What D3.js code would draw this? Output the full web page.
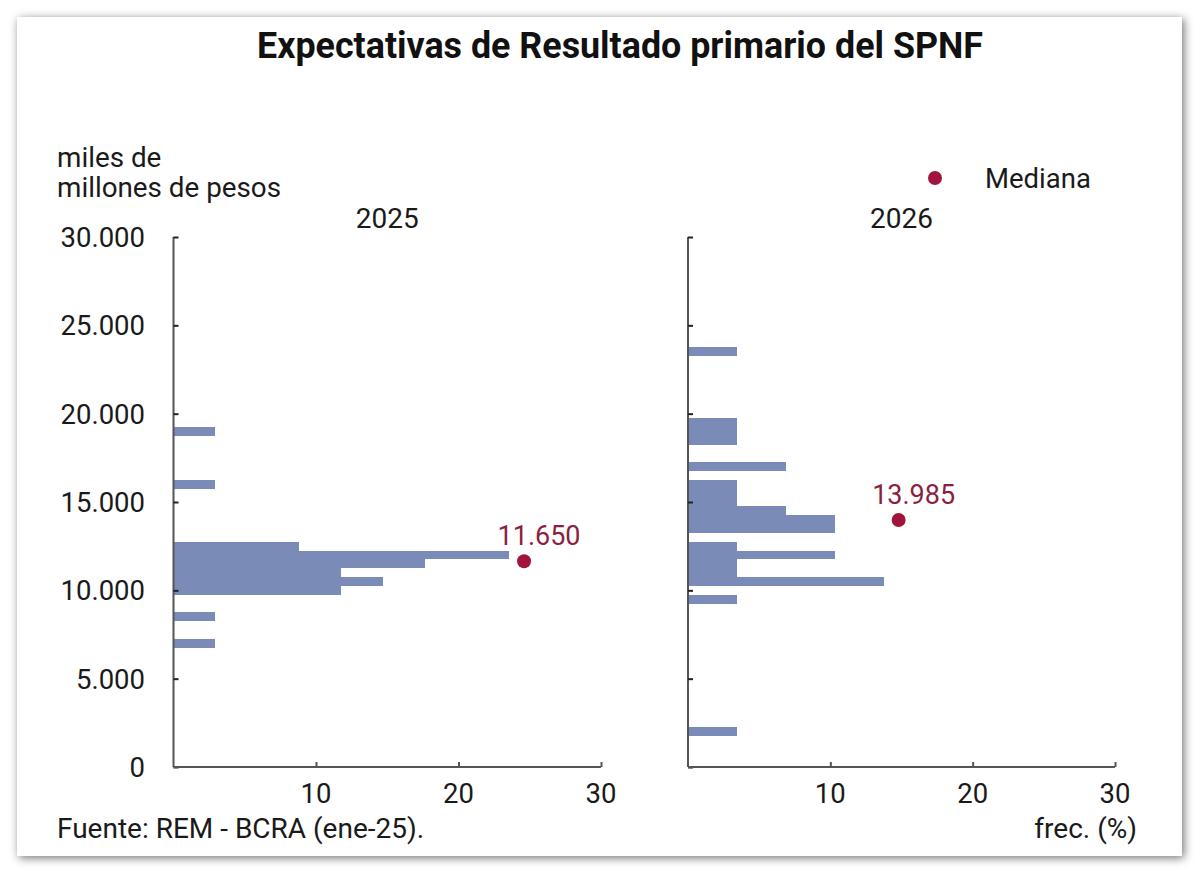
<!DOCTYPE html>
<html>
<head>
<meta charset="utf-8">
<script src="https://cdn.jsdelivr.net/npm/d3@7"></script>
<style>
  html, body { margin: 0; padding: 0; background: #fff; }
  svg { display: block; }
  text { font-family: Roboto, "Noto Sans", sans-serif; fill: #1a1a1a; }
</style>
</head>
<body>
<svg id="chart" width="1200" height="874"></svg>
<script>
// ---------- data ----------
const title = "Expectativas de Resultado primario del SPNF";
const years = ["2025", "2026"];
const binWidth = 500; // miles de millones de pesos
// 2025: bin centers and frequencies (%)
const bins2025 = [19000, 16000, 12500, 12000, 11500, 11000, 10500, 10000, 8500, 7000];
const freq2025 = [2.94, 2.94, 8.82, 23.53, 17.65, 11.76, 14.71, 11.76, 2.94, 2.94];
// 2026
const bins2026 = [23500, 19500, 19000, 18500, 17000, 16000, 15500, 15000, 14500, 14000, 13500, 12500, 12000, 11500, 11000, 10500, 9500, 2000];
const freq2026 = [3.45, 3.45, 3.45, 3.45, 6.90, 3.45, 3.45, 3.45, 6.90, 10.34, 10.34, 3.45, 10.34, 3.45, 3.45, 13.79, 3.45, 3.45];
const medians = [11650, 13985];
const medianLabels = ["11.650", "13.985"];
const medianX = [24.6, 14.8]; // horizontal position of median marker (frec. %)
const yTicks = [0, 5000, 10000, 15000, 20000, 25000, 30000];
const yTickLabels = ["0", "5.000", "10.000", "15.000", "20.000", "25.000", "30.000"];
const xTicks = [10, 20, 30];
const xTickLabels = ["10", "20", "30"];
const yUnitLines = ["miles de", "millones de pesos"];
const legendLabel = "Mediana";
const sourceText = "Fuente: REM - BCRA (ene-25).";
const xAxisTitle = "frec. (%)";

// ---------- styles ----------
const barColor = "#7b8bb8";
const medColor = "#a3143c";
const medTextColor = "#8c1f40";
const axisColor = "#555";

const svg = d3.select("#chart");

// frame with shadow
const defs = svg.append("defs");
const f = defs.append("filter").attr("id", "sh").attr("x", "-5%").attr("y", "-5%").attr("width", "110%").attr("height", "110%");
f.append("feDropShadow").attr("dx", 2).attr("dy", 2).attr("stdDeviation", 5).attr("flood-color", "#000").attr("flood-opacity", 0.55);
svg.append("rect").attr("x", 17).attr("y", 17).attr("width", 1165).attr("height", 839)
  .attr("fill", "#fff").attr("filter", "url(#sh)");

// title
svg.append("text").attr("x", 620).attr("y", 58).attr("text-anchor", "middle")
  .style("font-family", "'Liberation Sans Narrow', Roboto, sans-serif")
  .attr("font-weight", "bold").attr("font-size", 36)
  .attr("textLength", 726).attr("lengthAdjust", "spacingAndGlyphs")
  .style("fill", "#111")
  .text(title);

// y unit
svg.append("g").selectAll("text").data(yUnitLines).join("text")
  .attr("x", 57).attr("y", (d, i) => 167 + i * 30)
  .attr("font-size", 27.8).text(d => d);

// legend
svg.append("circle").attr("cx", 935).attr("cy", 178).attr("r", 7).attr("fill", medColor);
svg.append("text").attr("x", 985).attr("y", 188).attr("font-size", 27.5).text(legendLabel);

// scales
const y = d3.scaleLinear().domain([0, 30000]).range([767, 237]);
const panels = [
  { year: years[0], bins: bins2025, freq: freq2025, x0: 173.5, x1: 601, labels: true },
  { year: years[1], bins: bins2026, freq: freq2026, x0: 688, x1: 1115, labels: false }
];

panels.forEach((p, pi) => {
  const x = d3.scaleLinear().domain([0, 30]).range([p.x0, p.x1]);
  const g = svg.append("g");

  // bars
  const data = p.bins.map((b, i) => ({ b, f: p.freq[i] }));
  g.selectAll("rect.bar").data(data).join("rect").attr("class", "bar")
    .attr("x", x(0))
    .attr("y", d => y(d.b + binWidth / 2))
    .attr("width", d => x(d.f) - x(0))
    .attr("height", d => y(d.b - binWidth / 2) - y(d.b + binWidth / 2))
    .attr("fill", barColor)
    .attr("shape-rendering", "crispEdges");

  // y axis
  const ya = d3.axisRight(y).tickValues(yTicks).tickSize(5).tickFormat("");
  const yg = g.append("g").attr("transform", `translate(${x(0)},0)`).call(ya);
  yg.select(".domain").attr("stroke", axisColor).attr("stroke-width", 2).attr("d", `M0,${y(30000)}V${y(0)}`);
  yg.selectAll(".tick line").attr("stroke", "#222").attr("stroke-width", 2);
  if (p.labels) {
    g.append("g").selectAll("text").data(yTicks).join("text")
      .attr("x", 145).attr("y", d => y(d) + 10).attr("text-anchor", "end")
      .attr("font-size", 27.5).text((d, i) => yTickLabels[i]);
  }

  // x axis
  const xa = d3.axisTop(x).tickValues(xTicks).tickSize(5).tickFormat("");
  const xg = g.append("g").attr("transform", `translate(0,${y(0)})`).call(xa);
  xg.select(".domain").attr("stroke", axisColor).attr("stroke-width", 2).attr("d", `M${x(0)},0H${x(30)}`);
  xg.selectAll(".tick line").attr("stroke", axisColor).attr("stroke-width", 2);
  g.append("g").selectAll("text").data(xTicks).join("text")
    .attr("x", d => x(d)).attr("y", 803).attr("text-anchor", "middle")
    .attr("font-size", 27.5).text((d, i) => xTickLabels[i]);

  // year label
  g.append("text").attr("x", (x(0) + x(30)) / 2).attr("y", 228).attr("text-anchor", "middle")
    .attr("font-size", 28).text(p.year);

  // median
  const mx = x(medianX[pi]), my = y(medians[pi]);
  g.append("circle").attr("cx", mx).attr("cy", my).attr("r", 7).attr("fill", medColor);
  g.append("text").attr("x", mx + 15).attr("y", my - 16).attr("text-anchor", "middle")
    .attr("font-size", 27).style("fill", medTextColor).text(medianLabels[pi]);
});

// footnote
svg.append("text").attr("x", 57).attr("y", 838).attr("font-size", 28).text(sourceText);
svg.append("text").attr("x", 1137).attr("y", 838).attr("text-anchor", "end").attr("font-size", 28).text(xAxisTitle);
</script>
</body>
</html>
